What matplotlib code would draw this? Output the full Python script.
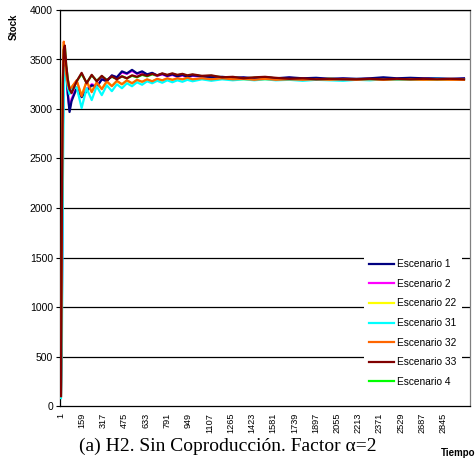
import matplotlib
matplotlib.use("Agg")
import matplotlib.pyplot as plt

# ---- data (time steps and stock values) ----
tiempo = [1, 8, 15, 22, 30, 40, 52, 65, 80,
          118, 155, 192, 230, 267, 305, 342, 380, 417, 455, 492, 530, 567, 605,
          642, 680, 717, 755, 792, 830, 867, 905, 942, 980,
          1050, 1120, 1200, 1280, 1360, 1440, 1520, 1600, 1700, 1800, 1900, 2000,
          2100, 2200, 2300, 2400, 2500, 2600, 2700, 2800, 2900, 3000]

esc1 = [100, 1000, 2800, 3350, 3550, 3400, 3150, 2970, 3080,
        3210, 3120, 3180, 3240, 3220, 3300, 3280, 3340, 3320, 3380, 3360, 3395, 3360, 3380,
        3350, 3365, 3340, 3355, 3335, 3350, 3330, 3345, 3325, 3340,
        3330, 3320, 3325, 3315, 3320, 3310, 3320, 3310, 3320, 3310, 3315, 3305,
        3310, 3305, 3310, 3320, 3310, 3315, 3310, 3310, 3305, 3310]

esc2 = [100, 1100, 2850, 3380, 3560, 3390, 3160, 3000, 3100,
        3220, 3140, 3200, 3250, 3230, 3300, 3285, 3335, 3320, 3370, 3355, 3385, 3355, 3370,
        3345, 3360, 3335, 3350, 3330, 3345, 3325, 3340, 3320, 3335,
        3325, 3315, 3320, 3310, 3315, 3305, 3315, 3305, 3315, 3305, 3310, 3300,
        3305, 3300, 3305, 3310, 3305, 3310, 3305, 3305, 3300, 3305]

esc22 = [100, 1700, 3250, 3650, 3530, 3340, 3240, 3200, 3220,
         3280, 3140, 3275, 3180, 3265, 3205, 3275, 3235, 3280, 3250, 3285, 3260, 3290, 3275,
         3295, 3280, 3300, 3290, 3305, 3295, 3305, 3300, 3310, 3300,
         3305, 3300, 3305, 3300, 3300, 3295, 3300, 3295, 3300, 3295, 3300, 3295,
         3300, 3295, 3300, 3295, 3300, 3300, 3295, 3300, 3295, 3295]

esc31 = [80, 600, 2200, 3150, 3420, 3350, 3220, 3150, 3200,
         3220, 3010, 3210, 3090, 3230, 3140, 3240, 3180, 3250, 3210, 3260, 3230, 3270, 3245,
         3280, 3260, 3285, 3265, 3290, 3270, 3290, 3275, 3295, 3280,
         3300, 3285, 3300, 3290, 3300, 3290, 3300, 3290, 3295, 3285, 3295, 3290,
         3285, 3295, 3290, 3300, 3295, 3300, 3300, 3305, 3300, 3300]

esc32 = [100, 1800, 3300, 3680, 3550, 3350, 3250, 3200, 3220,
         3290, 3130, 3280, 3170, 3270, 3200, 3280, 3230, 3285, 3250, 3290, 3260, 3295, 3275,
         3300, 3280, 3305, 3290, 3310, 3295, 3310, 3300, 3315, 3300,
         3310, 3300, 3310, 3300, 3305, 3295, 3305, 3295, 3300, 3295, 3300, 3295,
         3300, 3295, 3300, 3295, 3300, 3300, 3295, 3300, 3295, 3295]

esc33 = [100, 2000, 3250, 3600, 3640, 3450, 3300, 3200, 3160,
         3280, 3365, 3260, 3345, 3280, 3335, 3290, 3330, 3300, 3330, 3310, 3340, 3325, 3350,
         3335, 3355, 3340, 3360, 3345, 3360, 3345, 3355, 3340, 3350,
         3335, 3340, 3320, 3325, 3310, 3320, 3325, 3315, 3305, 3310, 3300, 3305,
         3300, 3300, 3305, 3300, 3305, 3300, 3305, 3300, 3305, 3300]

esc4 = [100, 1950, 3240, 3590, 3630, 3440, 3300, 3210, 3170,
        3280, 3355, 3265, 3340, 3285, 3330, 3295, 3325, 3305, 3330, 3310, 3335, 3320, 3345,
        3330, 3350, 3335, 3355, 3340, 3355, 3340, 3350, 3335, 3345,
        3330, 3335, 3320, 3320, 3310, 3315, 3320, 3310, 3305, 3305, 3300, 3305,
        3300, 3300, 3300, 3300, 3300, 3300, 3300, 3300, 3300, 3300]

etiquetas = ["Escenario 1", "Escenario 2", "Escenario 22", "Escenario 31",
             "Escenario 32", "Escenario 33", "Escenario 4"]
series = [esc1, esc2, esc22, esc31, esc32, esc33, esc4]
colores = ["#000080", "#FF00FF", "#FFFF00", "#00FFFF", "#FF6600", "#800000", "#00FF00"]
orden = [3, 1, 1, 4, 5, 6, 0]

xticks = list(range(1, 3000, 158))
yticks = list(range(0, 4001, 500))

fig = plt.figure(figsize=(4.77, 4.61), dpi=100)
ax = fig.add_axes([60 / 477, (461 - 406) / 461, 410 / 477, 396 / 461])

for y in yticks[1:]:
    ax.axhline(y, color="black", lw=0.9, zorder=0.5)

for vals, lab, col, z in zip(series, etiquetas, colores, orden):
    ax.plot(tiempo, vals, color=col, lw=1.6, label=lab, zorder=1 + z)

ax.set_xlim(-6, 3045)
ax.set_ylim(0, 4000)
ax.set_yticks(yticks)
ax.set_yticklabels([str(v) for v in yticks], fontsize=7.5, family="Liberation Sans")
ax.set_xticks(xticks)
ax.set_xticklabels([str(v) for v in xticks], fontsize=6.6, family="Liberation Sans",
                   rotation=90)
ax.tick_params(axis="y", length=3, width=0.8, pad=2)
ax.tick_params(axis="x", length=0, pad=5)
for s in ax.spines.values():
    s.set_color("black")
    s.set_linewidth(0.9)
ax.spines["right"].set_color("#808080")

leg = ax.legend(loc="lower right", bbox_to_anchor=(0.985, 0.03),
                prop={"family": "Liberation Sans", "size": 7.3},
                frameon=True, facecolor="white", edgecolor="none", framealpha=1,
                handlelength=2.5, handletextpad=0.3, labelspacing=0.95,
                borderaxespad=0.2, borderpad=0.5, fancybox=False)
leg.set_zorder(20)

fig.text(14 / 477, 1 - 27 / 461, "Stock", rotation=90, ha="center", va="center",
         fontsize=7, fontweight="bold", family="Liberation Sans")
fig.text(228 / 477, 1 - 446 / 461, "(a) H2. Sin Coproducción. Factor α=2",
         ha="center", va="center", fontsize=14, family="Liberation Serif")
fig.text(458 / 477, 1 - 453 / 461, "Tiempo", ha="center", va="center",
         fontsize=7, fontweight="bold", family="Liberation Sans")

fig.savefig("out.png", dpi=100, facecolor="white")
